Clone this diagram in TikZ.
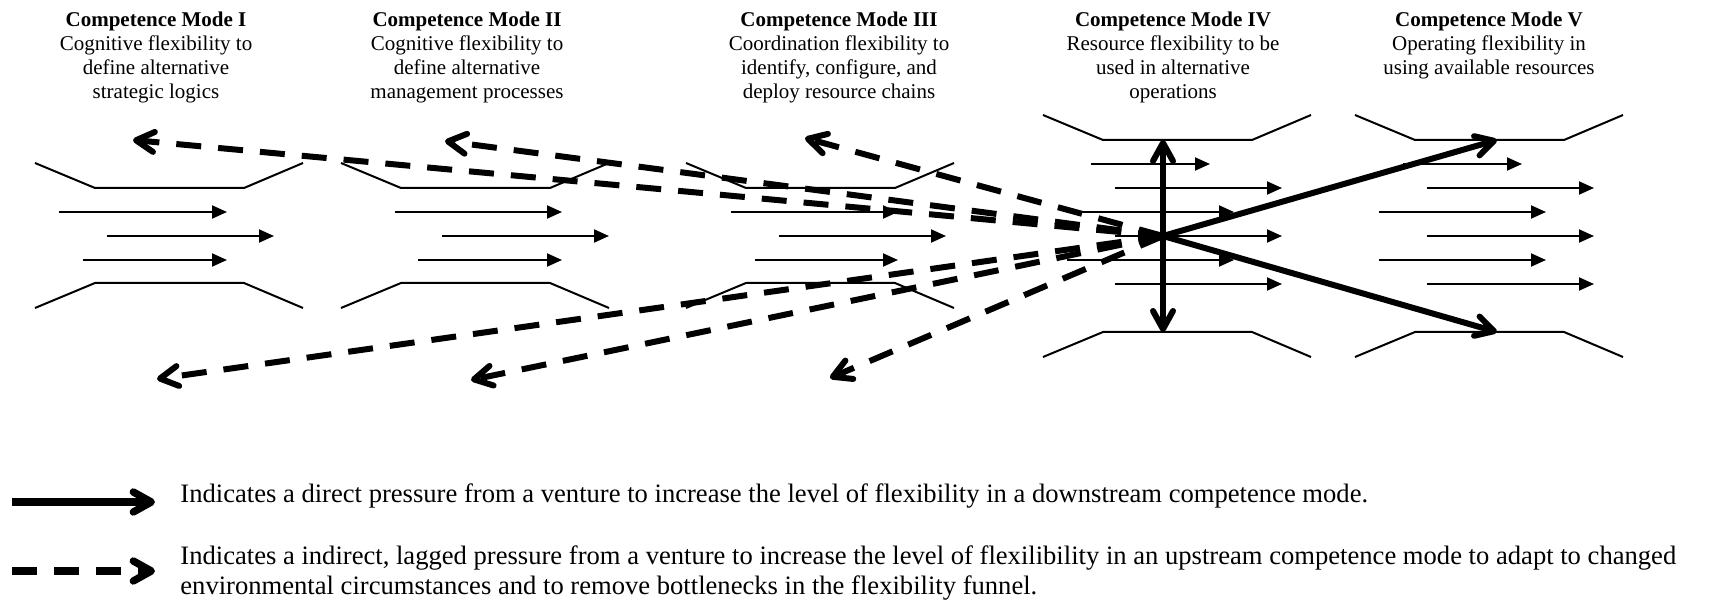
\documentclass[tikz,border=0pt]{standalone}
\usepackage{fontspec}
\setmainfont{Liberation Serif}
\usetikzlibrary{arrows.meta}

\begin{document}
\begin{tikzpicture}[x=0.5pt,y=-0.5pt,
  funnel/.style={line width=1pt},
  flow/.style={line width=1pt,-{Triangle[length=7.5pt,width=6.5pt]}},
  push/.style={line width=3pt,-{Straight Barb[length=9pt,width=10pt,round]}},
  lag/.style={push,dash pattern=on 12.5pt off 8.5pt},
  mode/.style={align=center,anchor=north,inner sep=0pt,font=\fontsize{10.5}{11.85}\selectfont},
  key/.style={align=left,inner sep=0pt,font=\fontsize{13.3}{15}\selectfont}]
\useasboundingbox (0,0) rectangle (1725,603);

% mode headings
\node[mode] (m1) at (156,12) {\textbf{Competence Mode I}\\Cognitive flexibility to\\define alternative\\strategic logics};
\node[mode] (m2) at (467,12) {\textbf{Competence Mode II}\\Cognitive flexibility to\\define alternative\\management processes};
\node[mode] (m3) at (839,12) {\textbf{Competence Mode III}\\Coordination flexibility to\\identify, configure, and\\deploy resource chains};
\node[mode] (m4) at (1173,12) {\textbf{Competence Mode IV}\\Resource flexibility to be\\used in alternative\\operations};
\node[mode] (m5) at (1489,12) {\textbf{Competence Mode V}\\Operating flexibility in\\using available resources};

% funnels
\foreach \x/\t/\b in {35/163/308,341/163/308,686/163/308,1043/115/357,1355/115/357}{
  \draw[funnel] (\x,\t) -- ++(60,25) -- ++(149,0) -- ++(59,-25);
  \draw[funnel] (\x,\b) -- ++(60,-25) -- ++(149,0) -- ++(59,25);
}

% flows inside the funnels
\foreach \a/\b/\y in {59/227/212,107/274/236,83/227/260,
                      395/562/212,442/609/236,418/562/260,
                      731/898/212,779/946/236,755/898/260,
                      1091/1210/164,1115/1282/188,1067/1234/212,1115/1282/236,1067/1234/260,1115/1282/284,
                      1403/1522/164,1427/1594/188,1379/1546/212,1427/1594/236,1379/1546/260,1427/1594/284}
  \draw[flow] (\a,\y) -- (\b,\y);

\coordinate (hub) at (1163,236);
\coordinate (Iup) at (133,140);
\coordinate (Ilo) at (157,379);
\coordinate (IIup) at (445,141);
\coordinate (IIlo) at (471,380);
\coordinate (IIIup) at (805,138);
\coordinate (IIIlo) at (830,378);
\coordinate (IVtop) at (1163,140);
\coordinate (IVbot) at (1163,332);
\coordinate (Vtop) at (1497,140);
\coordinate (Vbot) at (1497,332);

% lagged pressure upstream
\draw[lag] (hub) -- (Iup);
\draw[lag] (hub) -- (Ilo);
\draw[lag] (hub) -- (IIup);
\draw[lag] (hub) -- (IIlo);
\draw[lag] (hub) -- (IIIup);
\draw[lag] (hub) -- (IIIlo);

% direct pressure downstream
\draw[push] (hub) -- (IVtop);
\draw[push] (hub) -- (IVbot);
\draw[push] (hub) -- (Vtop);
\draw[push] (hub) -- (Vbot);

% key
\coordinate (k1a) at (12,502);
\coordinate (k1b) at (155,502);
\coordinate (k2a) at (12,571);
\coordinate (k2b) at (155,571);
\draw[push,line width=3.7pt] (k1a) -- (k1b);
\draw[lag,line width=3.7pt] (k2a) -- (k2b);
\node[key,anchor=base west] (direct) at (180,503) {Indicates a direct pressure from a venture to increase the level of flexibility in a downstream competence mode.};
\node[key,anchor=base west] (lagged) at (180,595) {Indicates a indirect, lagged pressure from a venture to increase the level of flexilibility in an upstream competence mode to adapt to changed\\environmental circumstances and to remove bottlenecks in the flexibility funnel.};
\end{tikzpicture}
\end{document}
